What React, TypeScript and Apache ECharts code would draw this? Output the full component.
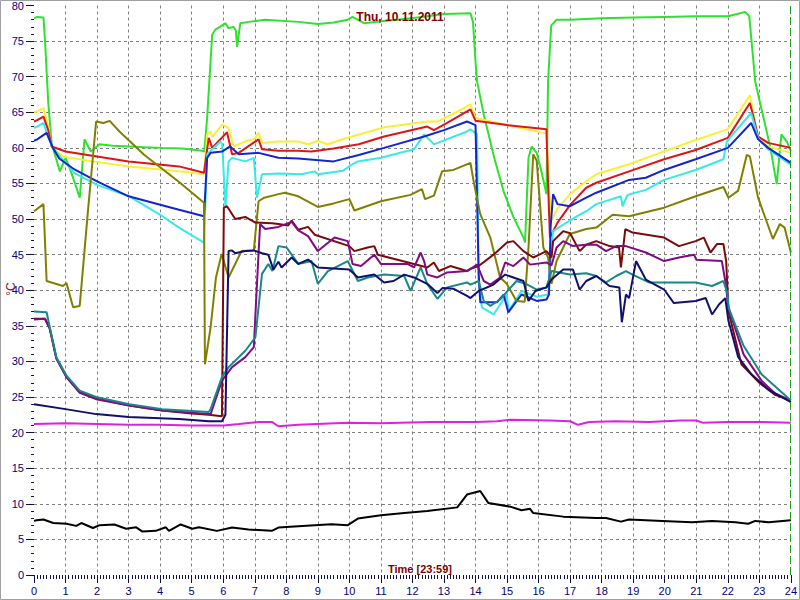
import React, { useEffect, useRef } from "react";
import * as echarts from "echarts";

const titleText = "Thu, 10.11.2011";
const xAxisText = "Time [23:59]";
const yAxisText = "°C";

const green = [[0,78.2],[0.1,78.4],[0.3,78.3],[0.35,75],[0.45,66.5],[0.56,60.5],[0.7,58.5],[0.82,56.7],[1.0,58.6],[1.13,57.2],[1.3,55],[1.45,53.0],[1.6,61.2],[1.8,59.5],[2.08,60.5],[2.5,60.3],[3.02,60.2],[3.5,60.1],[4.07,60.0],[4.7,59.9],[5.33,59.6],[5.4,59.5],[5.49,64.2],[5.65,75.9],[5.75,76.6],[6.07,77.5],[6.17,76.8],[6.33,77.0],[6.4,76.5],[6.44,74.2],[6.54,77.5],[6.8,77.7],[7.33,78.0],[8.38,77.7],[9.0,77.4],[9.5,77.6],[9.95,78.0],[10.1,78.4],[10.48,77.5],[11.0,77.8],[11.53,78.0],[12.3,78.4],[13.0,78.8],[13.84,78.9],[13.92,77.7],[14.0,72.1],[14.05,69.3],[14.26,64.7],[14.6,58.5],[14.89,53.9],[15.2,50.3],[15.52,47.4],[15.57,46.7],[15.68,58.6],[15.78,60.2],[15.94,59.3],[16.1,56.5],[16.25,53.5],[16.3,69.3],[16.4,77.2],[16.57,78.0],[17.0,78.0],[18.0,78.2],[19.0,78.3],[20.0,78.4],[21.0,78.5],[22.0,78.5],[22.3,78.8],[22.55,79.1],[22.68,78.5],[22.87,69.3],[23.18,63.3],[23.35,60],[23.55,54.9],[23.7,61.9],[23.88,60.8],[24.0,59.5]];

const yellow = [[0,65.0],[0.1,65.1],[0.3,65.6],[0.45,63],[0.56,60.0],[0.92,58.8],[2.0,58.0],[3.02,57.4],[4.6,56.7],[5.39,56.3],[5.49,61.9],[5.6,62.3],[5.65,61.5],[5.97,63.3],[6.17,62.8],[6.33,60.2],[6.7,60.9],[7.0,61.3],[7.12,62.1],[7.23,60.7],[7.75,60.9],[8.38,60.9],[8.69,60.5],[9.0,61.0],[9.3,60.5],[10.0,61.5],[11.11,62.9],[12.47,63.7],[12.79,63.7],[13.3,64.8],[13.84,66.1],[14.0,64.2],[15.0,63.2],[16.25,62.0],[16.32,55],[16.4,49.7],[16.6,51.5],[17.0,53.5],[17.51,55.3],[17.83,56.3],[18.87,57.7],[19.98,59.5],[20.98,61.1],[21.99,62.6],[22.44,65.6],[22.7,67.4],[22.8,65.1],[22.96,61.4],[23.28,60.2],[24.0,59.3]];

const red = [[0,63.7],[0.1,63.9],[0.3,64.4],[0.45,62.5],[0.56,60.2],[1.0,59.5],[2.0,58.8],[3.0,58.1],[4.6,57.4],[5.39,56.5],[5.54,61.4],[5.65,60.0],[6.12,62.2],[6.28,59.1],[6.49,59.3],[7.12,61.2],[7.23,59.8],[7.75,59.6],[8.38,59.6],[8.79,59.5],[9.5,59.9],[10.3,60.5],[11.1,61.6],[12.47,63.0],[12.68,62.5],[13.1,63.5],[13.84,65.4],[14.0,63.8],[15.0,63.2],[16.25,62.6],[16.3,55],[16.36,47.4],[16.6,49.5],[17.0,52],[17.51,54.4],[17.83,55.1],[18.87,56.7],[19.98,58.4],[20.98,59.7],[22.0,61.4],[22.7,66.3],[22.8,64.6],[22.96,61.6],[23.28,60.7],[24.0,60.0]];

const cyan = [[0,62.8],[0.1,63.0],[0.3,63.5],[0.45,61.5],[0.6,60.0],[0.92,58.3],[1.27,56.5],[2.0,54.8],[3.02,53.2],[4.07,50.4],[4.6,48.8],[5.39,46.7],[5.49,59.1],[5.91,60.9],[5.97,60.5],[6.07,51.6],[6.17,58.1],[6.28,58.6],[6.7,58.1],[6.97,58.6],[7.07,53.0],[7.23,56.3],[7.75,56.4],[8.48,56.3],[8.9,56.7],[9.0,56.3],[9.8,56.8],[10.06,57.6],[10.27,58.1],[11.0,58.6],[12.05,59.8],[12.37,61.9],[12.68,60.5],[13.73,62.3],[13.84,62.6],[14.05,61.9],[14.1,41.3],[14.2,37.6],[14.57,36.6],[14.99,39.4],[15.05,37.1],[15.46,39.9],[15.94,39.1],[16.3,39.4],[16.4,45],[16.46,48.3],[16.99,49.8],[17.51,51.1],[17.83,52.1],[18.61,53.2],[18.66,51.8],[18.82,53.4],[19.4,54.1],[19.98,55.5],[20.98,56.9],[21.86,58.4],[21.97,60.9],[22.74,64.9],[22.96,61.4],[23.28,59.8],[24.0,57.6]];

const blue = [[0,61.0],[0.1,61.2],[0.4,62.1],[0.6,60.0],[0.8,58.5],[1.27,57.0],[2.0,55.3],[3.0,53.2],[4.0,52.0],[4.6,51.3],[5.39,50.4],[5.49,58.6],[5.6,59.3],[5.97,59.5],[6.22,60.2],[6.49,59.1],[7.12,59.3],[7.75,58.6],[8.38,58.5],[9.5,58.1],[10.3,59.0],[11.1,60.0],[12.37,61.6],[13.0,62.5],[13.73,63.7],[14.0,63.2],[14.1,42.3],[14.15,38.3],[14.68,38.3],[14.89,39.4],[15.04,36.9],[15.46,39.4],[15.94,38.5],[16.25,38.7],[16.33,39.4],[16.38,48.8],[16.46,53.5],[16.6,52.1],[16.99,51.8],[17.51,53.0],[17.83,53.7],[18.87,55.5],[19.4,55.8],[19.98,56.9],[20.98,58.4],[22.0,60.0],[22.74,63.5],[22.96,61.2],[23.28,60.0],[24.0,57.9]];

const olive = [[0,51.1],[0.3,52.1],[0.4,41.3],[0.92,40.6],[1.03,41.0],[1.24,37.6],[1.45,37.8],[1.71,51.1],[1.97,63.7],[2.2,63.5],[2.4,63.8],[2.71,62.3],[3.5,59.0],[4.6,55.2],[5.39,52.3],[5.42,29.6],[5.6,34.8],[5.77,41.8],[5.95,45.1],[6.17,41.8],[6.58,45.5],[6.97,45.6],[7.12,52.5],[7.3,53.0],[7.75,53.5],[7.96,53.7],[8.38,53.2],[9.0,51.7],[9.5,52.2],[10.0,52.8],[10.16,51.2],[11.0,52.5],[11.94,53.4],[12.3,54.2],[12.4,52.8],[12.68,53.3],[12.94,56.7],[13.3,56.9],[13.84,57.9],[13.94,55.3],[14.15,50.7],[14.47,47.4],[14.78,41.8],[14.99,40.9],[15.3,38.5],[15.56,38.4],[15.68,46.0],[15.83,59.1],[15.94,58.2],[16.15,46.0],[16.3,44.6],[16.41,40.9],[16.57,44.1],[16.99,47.9],[17.51,48.6],[17.83,48.8],[18.35,50.6],[18.87,50.4],[19.98,51.6],[20.98,53.2],[21.86,54.5],[22.02,53.0],[22.33,54.0],[22.6,59.0],[22.7,58.8],[22.96,53.0],[23.43,47.2],[23.65,49.3],[23.8,48.8],[24.0,45.3]];

const maroon = [[0,36.0],[0.35,36.0],[0.5,34.6],[0.71,30.4],[1.03,27.8],[1.45,25.7],[1.97,24.8],[3.02,23.8],[4.07,23.1],[5.0,22.7],[5.54,22.5],[5.96,22.3],[6.02,51.6],[6.12,51.8],[6.38,50.0],[6.7,50.3],[7.02,49.5],[7.54,49.4],[7.75,49.3],[8.06,49.1],[8.17,49.8],[8.38,48.5],[8.69,48.9],[8.9,47.8],[10.0,46.2],[10.16,45.5],[10.58,46.0],[10.79,46.2],[10.9,45.0],[12.05,43.7],[12.47,43.2],[12.68,43.9],[12.84,42.7],[13.2,43.4],[13.73,42.7],[13.84,43.0],[14.1,43.4],[14.57,45.0],[15.0,46.7],[15.2,46.9],[15.52,45.5],[15.83,44.6],[16.25,45.5],[16.41,44.6],[16.46,46.9],[16.78,48.3],[17.0,48.0],[17.3,45.5],[17.51,46.4],[17.83,46.9],[18.25,46.2],[18.55,46.0],[18.61,43.2],[18.75,48.6],[18.98,48.1],[19.98,47.4],[20.45,46.2],[20.98,46.9],[21.24,47.4],[21.45,45.3],[21.66,46.5],[21.86,46.5],[21.95,44],[22.02,37.1],[22.43,29.6],[23.0,27.0],[23.5,25.3],[24.0,24.5]];

const purple = [[0,35.9],[0.35,36.0],[0.5,34.6],[0.71,30.4],[1.03,27.8],[1.45,25.6],[1.97,24.7],[3.02,23.8],[4.07,23.1],[5.54,22.6],[5.6,22.6],[5.96,27.3],[6.28,29.2],[6.7,30.6],[6.97,32.0],[7.07,40.9],[7.17,49.3],[7.33,48.6],[7.75,48.9],[8.17,49.6],[8.38,48.4],[8.69,47.6],[9.0,45.5],[9.53,47.4],[9.95,46.9],[10.1,43.7],[10.37,43.4],[10.79,45.0],[11.0,43.7],[11.84,43.7],[12.05,43.2],[12.26,45.3],[12.37,44.1],[12.47,42.2],[12.79,41.8],[13.1,42.5],[13.73,42.7],[13.84,43.0],[14.05,43.6],[14.26,41.3],[14.47,40.8],[14.78,41.8],[14.94,43.9],[15.2,43.4],[15.52,44.6],[15.73,43.6],[16.25,43.9],[16.41,43.5],[16.57,46.0],[16.78,46.9],[17.09,46.2],[17.51,46.4],[17.83,46.4],[18.14,45.5],[18.46,46.2],[18.77,46.2],[19.4,45.3],[19.98,44.1],[20.45,44.6],[20.93,45.0],[21.0,44.3],[21.81,44.1],[21.92,41.3],[22.02,37.6],[22.5,31],[23.07,27.3],[23.5,25.5],[24.0,24.5]];

const teal = [[0,37.0],[0.4,36.9],[0.5,34.8],[0.71,30.6],[1.03,28.0],[1.45,25.9],[1.97,25.0],[3.02,24.0],[4.07,23.3],[5.54,22.9],[5.6,23.3],[5.96,27.8],[6.17,29.2],[6.7,31.5],[7.02,33.4],[7.23,42.3],[7.43,43.7],[7.56,42.7],[7.75,46.2],[8.01,46.0],[8.17,45.0],[8.38,43.7],[8.8,44.1],[9.0,40.9],[9.32,42.7],[9.95,44.1],[10.27,41.3],[10.58,41.8],[11.1,42.2],[11.74,42.0],[11.94,39.9],[12.26,43.2],[12.47,40.9],[12.79,38.8],[13.1,40.4],[13.73,41.1],[13.84,40.8],[14.1,41.3],[14.26,38.5],[14.47,37.8],[14.78,38.7],[15.3,41.3],[15.6,40.9],[15.94,40.1],[16.25,40.4],[16.41,42.7],[16.99,42.2],[17.51,42.4],[17.83,42.0],[18.14,41.1],[18.46,42.0],[18.77,42.7],[18.98,42.2],[19.5,41.1],[19.98,41.1],[20.98,41.1],[21.5,40.6],[21.86,41.3],[22.0,39.4],[22.02,37.6],[22.5,32.2],[23.07,28.2],[24.0,24.5]];

const navy = [[0,24.0],[1.0,23.3],[1.97,22.6],[3.0,22.2],[4.6,21.9],[5.54,21.6],[5.96,21.6],[6.07,22.5],[6.17,45.5],[6.28,45.6],[6.38,45.2],[6.7,45.5],[6.97,45.6],[7.23,45.2],[7.43,45.0],[7.59,42.9],[7.75,44.0],[7.85,43.2],[8.17,44.6],[8.38,43.7],[8.69,44.3],[9.0,43.2],[10.0,42.9],[10.27,41.8],[10.79,42.2],[11.1,41.1],[11.4,41.3],[11.74,42.2],[12.05,41.8],[12.47,40.9],[12.79,39.6],[12.95,40.3],[13.31,40.2],[13.73,39.2],[13.84,38.9],[14.1,39.9],[14.57,40.8],[14.94,42.2],[15.2,41.8],[15.52,41.3],[15.68,38.5],[15.9,39.9],[16.25,40.4],[16.41,41.5],[16.78,42.9],[17.09,42.9],[17.3,40.1],[17.51,41.3],[17.83,42.0],[18.25,40.6],[18.56,40.4],[18.64,35.5],[18.77,39.4],[18.87,38.9],[19.09,44.1],[19.4,41.5],[19.98,40.1],[20.29,38.2],[20.98,38.5],[21.3,38.9],[21.5,36.6],[21.72,38.0],[21.92,38.9],[22.02,35.7],[22.33,30.6],[22.75,28.2],[23.3,26],[24.0,24.3]];

const magenta = [[0,21.2],[1.0,21.3],[2.0,21.2],[3.0,21.1],[4.0,21.1],[5.0,21.0],[6.02,21.0],[6.5,21.2],[7.12,21.5],[7.54,21.5],[7.75,20.9],[8.38,21.1],[9.95,21.4],[11.0,21.3],[12.58,21.5],[14.0,21.5],[14.68,21.6],[15.1,21.8],[16.36,21.7],[17.0,21.6],[17.25,21.1],[17.6,21.5],[18.46,21.6],[19.5,21.5],[20.5,21.7],[21.0,21.7],[21.2,21.4],[22.0,21.5],[23.0,21.5],[24.0,21.4]];

const black = [[0,7.6],[0.08,7.7],[0.3,7.8],[0.61,7.3],[1.03,7.2],[1.34,6.9],[1.5,7.3],[1.87,6.6],[2.08,7.0],[2.55,7.1],[2.92,6.5],[3.24,6.7],[3.44,6.1],[3.86,6.2],[4.18,6.7],[4.28,6.2],[4.65,7.1],[5.02,6.5],[5.23,6.7],[5.8,6.2],[6.28,6.67],[6.8,6.4],[7.54,6.2],[7.75,6.67],[8.38,6.86],[9.43,7.14],[9.95,7.0],[10.27,7.93],[11.0,8.4],[11.74,8.7],[12.47,9.0],[13.42,9.5],[13.73,11.3],[14.15,11.8],[14.41,10.1],[15.1,9.6],[15.46,9.1],[15.73,9.3],[15.83,8.7],[16.78,8.2],[17.83,8.0],[18.14,8.0],[18.61,7.5],[18.87,7.8],[19.92,7.6],[20.87,7.4],[21.5,7.6],[22.24,7.4],[22.65,7.2],[22.87,7.6],[23.29,7.4],[24.0,7.7]];

const nowMarker = 23.97;

const seriesList: [string, number[][], string][] = [
  ["Green", green, "#2ee22e"],
  ["Yellow", yellow, "#f8f034"],
  ["Red", red, "#e01414"],
  ["Cyan", cyan, "#36eaea"],
  ["Blue", blue, "#1424d0"],
  ["Olive", olive, "#808000"],
  ["Maroon", maroon, "#7c0a0a"],
  ["Purple", purple, "#820a82"],
  ["Teal", teal, "#188888"],
  ["Navy", navy, "#10106e"],
  ["Magenta", magenta, "#e020e0"],
  ["Black", black, "#000000"],
];

const FONT = "Liberation Sans, Arial, sans-serif";

export default function App() {
  const ref = useRef<HTMLDivElement>(null);
  useEffect(() => {
    if (!ref.current) return;
    const chart = echarts.init(ref.current, undefined, { renderer: "svg" });
    const series: any[] = seriesList.map(([name, data, color]) => ({
      name,
      type: "line",
      data,
      showSymbol: false,
      symbol: "none",
      lineStyle: { width: 2, color },
      itemStyle: { color },
      emphasis: { disabled: true },
    }));
    series[series.length - 1].markLine = {
      silent: true,
      symbol: ["none", "none"],
      label: { show: false },
      lineStyle: { color: "#22a022", type: [8, 3], width: 1 },
      data: [{ xAxis: nowMarker }],
    };
    chart.setOption({
      animation: false,
      backgroundColor: "#ffffff",
      grid: { left: 34, right: 4, top: 4, bottom: 25, containLabel: false },
      xAxis: {
        type: "value",
        min: 0,
        max: 24,
        interval: 1,
        axisLine: { show: false },
        axisTick: { show: true, length: 8, lineStyle: { color: "#101040" } },
        minorTick: { show: true, splitNumber: 10, length: 4, lineStyle: { color: "#101040" } },
        axisLabel: { color: "#000080", fontSize: 11, fontFamily: FONT, margin: 10 },
        splitLine: {
          show: true,
          showMinLine: false,
          showMaxLine: false,
          lineStyle: { color: "#808080", type: [3, 3], width: 1 },
        },
      },
      yAxis: {
        type: "value",
        min: 0,
        max: 80,
        interval: 5,
        axisLine: { show: false },
        axisTick: { show: true, length: 8, lineStyle: { color: "#101040" } },
        minorTick: { show: true, splitNumber: 5, length: 3, lineStyle: { color: "#101040" } },
        axisLabel: { color: "#000080", fontSize: 11, fontFamily: FONT, margin: 10 },
        splitLine: {
          show: true,
          showMinLine: false,
          showMaxLine: false,
          lineStyle: { color: "#808080", type: [3, 3], width: 1 },
        },
      },
      graphic: [
        {
          type: "rect",
          shape: { x: 0.5, y: 0.5, width: 799, height: 599 },
          style: { fill: "none", stroke: "#a0a0a0", lineWidth: 1 },
          silent: true,
        },
        {
          type: "text",
          x: 400,
          y: 17,
          z: 100,
          style: {
            text: titleText,
            fill: "#800000",
            font: `bold 12px ${FONT}`,
            textAlign: "center",
            textVerticalAlign: "middle",
          },
        },
        {
          type: "text",
          x: 420,
          y: 569,
          z: 100,
          style: {
            text: xAxisText,
            fill: "#800000",
            font: `bold 11px ${FONT}`,
            textAlign: "center",
            textVerticalAlign: "middle",
          },
        },
        {
          type: "text",
          x: 11,
          y: 289,
          rotation: Math.PI / 2,
          z: 100,
          style: {
            text: yAxisText,
            fill: "#801030",
            font: `12px ${FONT}`,
            textAlign: "center",
            textVerticalAlign: "middle",
          },
        },
      ],
      series,
    });
    return () => chart.dispose();
  }, []);
  return (
    <div
      ref={ref}
      style={{ position: "fixed", left: 0, top: 0, width: 800, height: 600, background: "#fff" }}
    />
  );
}
